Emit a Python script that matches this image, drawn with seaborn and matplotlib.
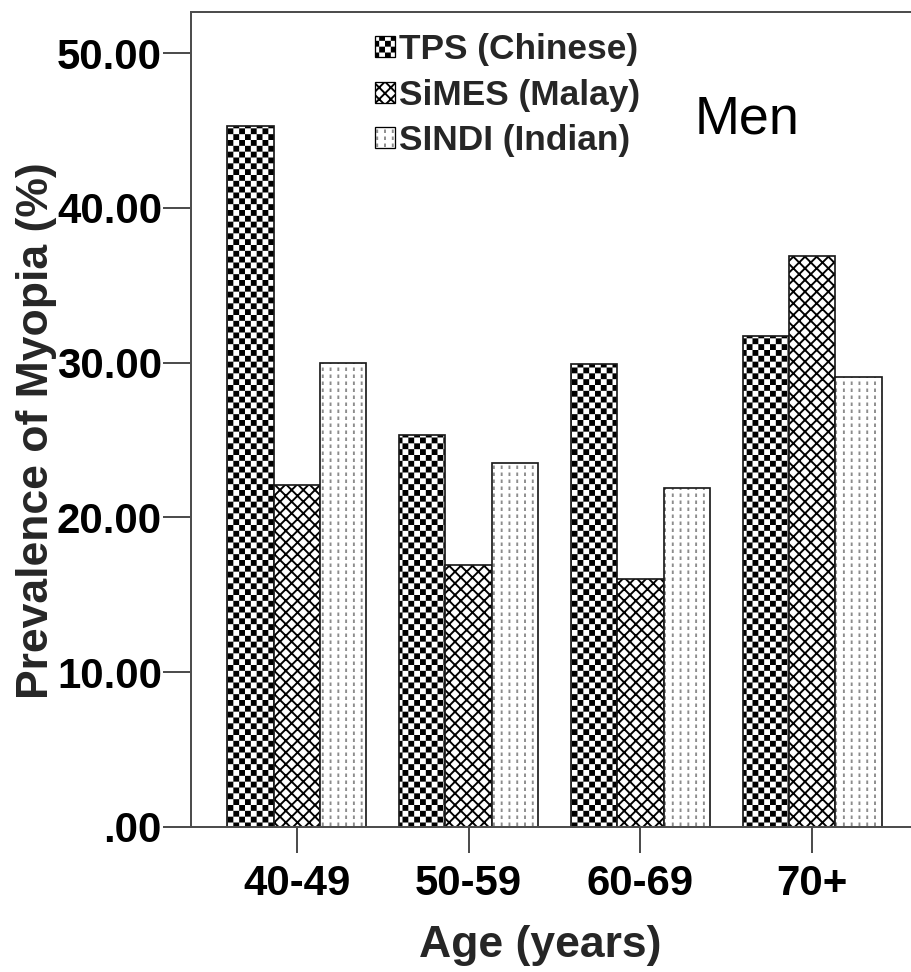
import warnings
import numpy as np
import pandas as pd
import matplotlib
matplotlib.use("Agg")
import matplotlib.pyplot as plt
import matplotlib.hatch as mhatch
import matplotlib.patches as mpatches
import matplotlib.colors as mcolors
from matplotlib.path import Path
import seaborn as sns

# custom hatch letters ('c', 'd') are registered below
warnings.filterwarnings("ignore", message=".*hatch must consist.*")

# ---- data -------------------------------------------------------------
age_groups = ["40-49", "50-59", "60-69", "70+"]
studies = ["TPS (Chinese)", "SiMES (Malay)", "SINDI (Indian)"]
tps_chinese = [45.3, 25.3, 29.9, 31.7]
simes_malay = [22.1, 16.9, 16.0, 36.9]
sindi_indian = [30.0, 23.5, 21.9, 29.1]
y_ticks = [0, 10, 20, 30, 40, 50]
y_tick_labels = [".00", "10.00", "20.00", "30.00", "40.00", "50.00"]

DPI = 70
W_PX, H_PX = 911, 972


def px(v):
    """pixels -> points at the figure dpi"""
    return v * 72.0 / DPI


HATCH_LW_PX = 1.9


# ---- extra hatch patterns ---------------------------------------------
class CheckerHatch(mhatch.HatchPatternBase):
    """'c': filled checkerboard squares."""

    def __init__(self, hatch, density):
        self.n = 12 * hatch.count("c")
        self.num_vertices = (self.n * self.n // 2) * 5

    def set_vertices_and_codes(self, vertices, codes):
        n = self.n
        s = 1.0 / n
        inset = HATCH_LW_PX / DPI / 2.0
        k = 0
        for i in range(n):
            for j in range(n):
                if (i + j) % 2:
                    continue
                x0, y0 = i * s + inset, j * s + inset
                x1, y1 = (i + 1) * s - inset, (j + 1) * s - inset
                vertices[k:k + 5] = [(x0, y0), (x1, y0), (x1, y1), (x0, y1), (x0, y0)]
                codes[k:k + 5] = [Path.MOVETO, Path.LINETO, Path.LINETO,
                                  Path.LINETO, Path.CLOSEPOLY]
                k += 5


class DottedVerticalHatch(mhatch.HatchPatternBase):
    """'d': columns of short vertical dashes."""

    def __init__(self, hatch, density):
        self.cols = 9 * hatch.count("d")
        self.rows = 10
        self.num_vertices = self.cols * self.rows * 2

    def set_vertices_and_codes(self, vertices, codes):
        lw = HATCH_LW_PX / DPI
        dash = 3.5 / DPI - lw
        idx = 0
        for c in range(self.cols):
            x = (c + 0.5) / self.cols
            for r in range(self.rows):
                y0 = r / self.rows + lw / 2
                vertices[idx] = (x, y0)
                vertices[idx + 1] = (x, y0 + dash)
                codes[idx] = Path.MOVETO
                codes[idx + 1] = Path.LINETO
                idx += 2


mhatch._hatch_types.extend([CheckerHatch, DottedVerticalHatch])

# ---- style ------------------------------------------------------------
sns.set_theme(style="white")
plt.rcParams["font.family"] = ["Liberation Sans", "DejaVu Sans"]
plt.rcParams["font.weight"] = "bold"
plt.rcParams["hatch.linewidth"] = px(HATCH_LW_PX)

AXIS_GRAY = "#4d4d4d"
hatches = ["c", "xx", "d"]
hatch_colors = ["black", "black", "#8c8c8c"]

fig = plt.figure(figsize=(W_PX / DPI, H_PX / DPI), dpi=DPI)
fig.patch.set_facecolor("white")
ax = fig.add_axes([191 / W_PX, (H_PX - 827) / H_PX, 727 / W_PX, 815 / H_PX])

rows = [
    (age, study, val)
    for study, vals in zip(studies, [tps_chinese, simes_malay, sindi_indian])
    for age, val in zip(age_groups, vals)
]
df = pd.DataFrame(rows, columns=["age", "study", "prevalence"])

sns.barplot(
    data=df, x="age", y="prevalence", hue="study",
    order=age_groups, hue_order=studies,
    palette={s: "white" for s in studies}, saturation=1,
    width=0.81, gap=0, errorbar=None,
    edgecolor="#1a1a1a", linewidth=px(1.7),
    legend=False, ax=ax,
)

for cont, h, hc in zip(ax.containers, hatches, hatch_colors):
    for bar in cont:
        bar.set_hatch(h)
        bar._hatch_color = mcolors.to_rgba(hc)

# ---- axes -------------------------------------------------------------
ax.set_xlim(-0.617, 3.617)
ax.set_ylim(0, 52.65)
ax.set_yticks(y_ticks)
ax.set_yticklabels(y_tick_labels)
ax.set_facecolor("white")

for side in ["left", "top", "bottom", "right"]:
    ax.spines[side].set_visible(True)
    ax.spines[side].set_color(AXIS_GRAY)
    ax.spines[side].set_linewidth(px(2))

ax.tick_params(axis="y", which="major", left=True, length=px(28), width=px(2),
               color=AXIS_GRAY, pad=px(1), labelsize=px(42), labelcolor="black")
ax.tick_params(axis="x", which="major", bottom=True, length=px(26), width=px(2),
               color=AXIS_GRAY, pad=px(11), labelsize=px(42), labelcolor="black")

ax.set_xlabel("Age (years)", fontsize=px(44.5), fontweight="bold", va="center")
ax.set_ylabel("Prevalence of Myopia (%)", fontsize=px(44.5), fontweight="bold",
              va="center", ha="center")
ax.xaxis.set_label_coords((540 - 191) / 727, (827 - 946) / 815)
ax.yaxis.set_label_coords((36 - 191) / 727, (827 - 431) / 815)

# ---- legend -----------------------------------------------------------
handles = []
for h, hc in zip(hatches, hatch_colors):
    p = mpatches.Patch(facecolor="white", edgecolor="black", linewidth=px(1.3), hatch=h)
    p._hatch_color = mcolors.to_rgba(hc)
    handles.append(p)

fs_leg = 35.3
ax.legend(
    handles, studies, loc="upper left",
    bbox_to_anchor=(375 / W_PX, 1 - 33 / H_PX), bbox_transform=fig.transFigure,
    frameon=False, borderpad=0, borderaxespad=0,
    handlelength=20 / fs_leg, handleheight=19 / fs_leg,
    handletextpad=0.1, labelspacing=0.36,
    prop={"family": "Liberation Sans", "weight": "bold", "size": px(fs_leg)},
)

fig.text(747 / W_PX, 1 - 133 / H_PX, "Men", ha="center", va="baseline",
         fontsize=px(54), fontweight="normal", color="black")

fig.savefig("out.png", dpi=DPI, facecolor="white")
